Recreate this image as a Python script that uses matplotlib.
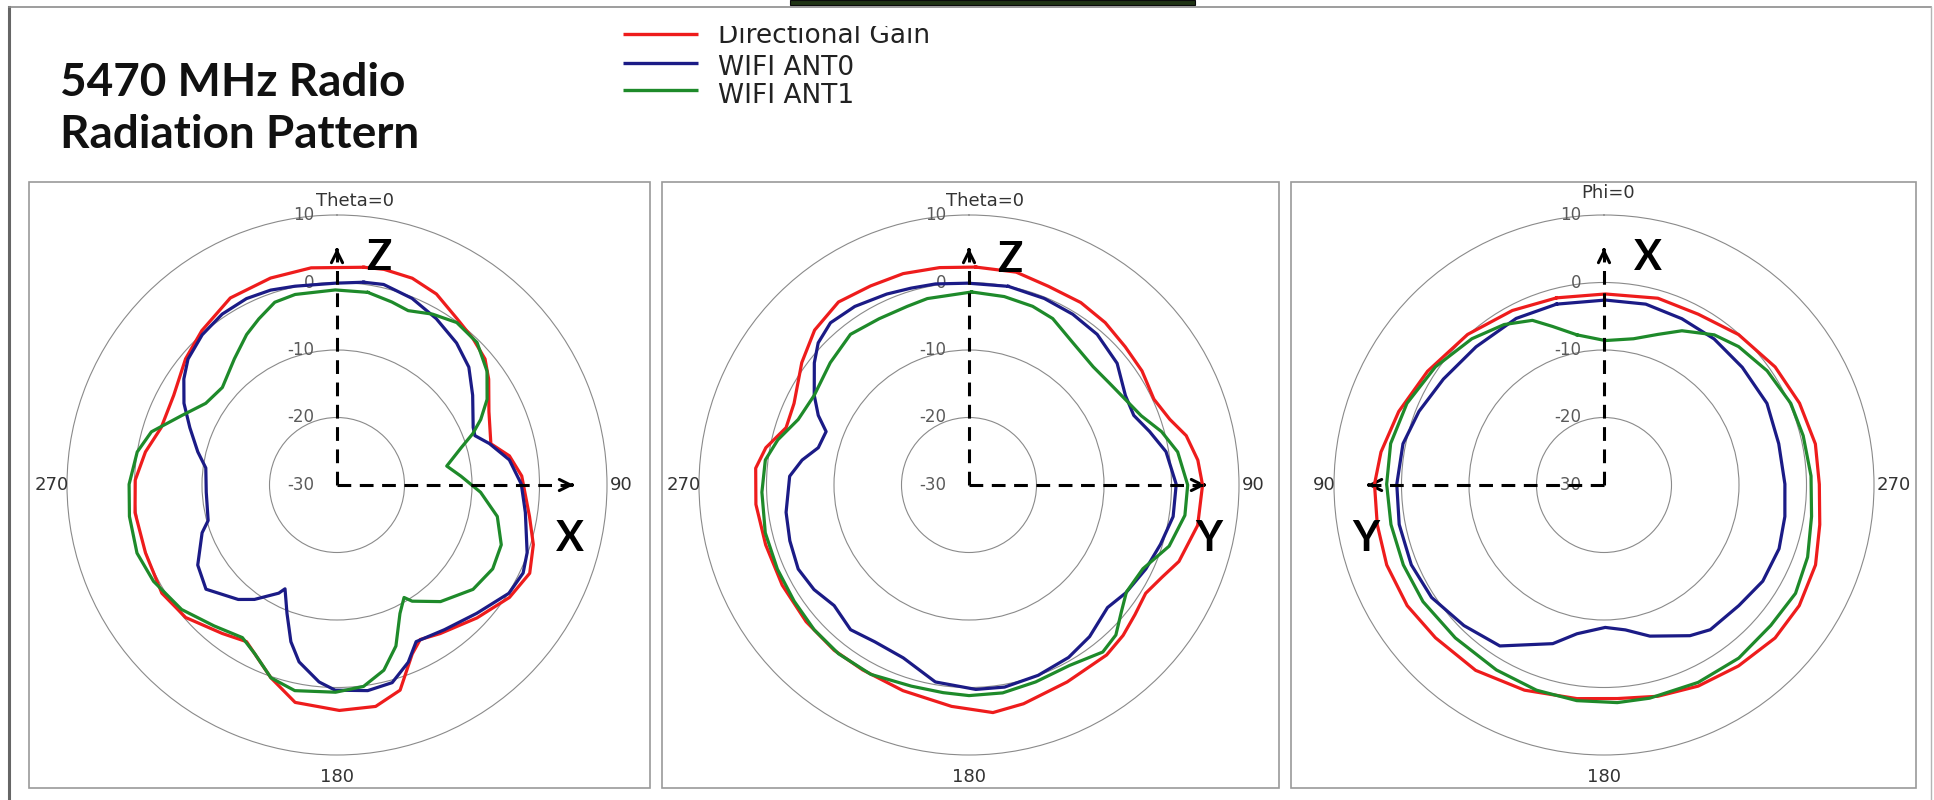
import numpy as np
import matplotlib.pyplot as plt
from matplotlib.lines import Line2D
from matplotlib.patches import Rectangle
from matplotlib.transforms import Bbox, TransformedBbox

W, H = 1934, 800

RED = '#ee1c1c'
BLUE = '#1b1b86'
GREEN = '#1e8a2a'
GRID = '#8a8a8a'

series_names = ['Directional Gain', 'WIFI ANT0', 'WIFI ANT1']
series_colors = [RED, BLUE, GREEN]

# XZ plane, theta sweep (angle in deg, gain in dBi)
xz_gain_ang = [7.0, 12.3, 20.0, 27.5, 35.7, 42.9, 49.6, 55.1, 64.2, 75.0,
               80.4, 87.2, 99.3, 106.9, 114.6, 123.1, 133.5, 145.2, 151.7, 156.0,
               162.9, 170.1, 179.4, 190.9, 198.9, 210.0, 217.7, 228.8, 238.3, 250.5,
               262.2, 271.4, 279.8, 288.1, 298.8, 309.8, 318.8, 330.3, 342.2, 353.2]
xz_gain_db = [2.5, 2.7, 2.6, 1.9, 0.4, -0.4, -1.2, -2.6, -5.0, -6.4,
              -4.1, -2.6, -1.1, 0.4, 1.4, 0.5, -1.4, -3.2, -4.0, -2.6,
              1.8, 3.3, 3.4, 2.8, 0.2, -3.2, -2.2, -0.2, 0.5, 0.1,
              0.2, -0.1, -1.2, -2.6, -2.4, -0.8, 0.4, 1.9, 2.2, 2.4]

xz_ant0_ang = [7.5, 13.1, 21.9, 30.8, 40.1, 48.2, 56.5, 67.1, 70.3, 74.8,
               81.7, 89.7, 98.3, 109.6, 115.3, 122.2, 132.6, 143.4, 153.2, 158.1,
               164.4, 171.5, 180.5, 185.2, 192.1, 196.4, 201.3, 206.6, 208.3, 215.8,
               220.8, 231.5, 240.1, 250.5, 254.6, 266.8, 277.4, 283.4, 291.3, 298.1,
               304.7, 310.2, 318.1, 326.1, 334.1, 341.2, 348.1, 359.5]
xz_ant0_db = [0.3, 0.5, -0.2, -1.3, -2.5, -3.8, -5.9, -8.1, -8.3, -6.6,
              -4.2, -2.7, -1.8, -0.1, 0.5, 0.1, -1.9, -3.3, -4.0, -1.7,
              0.4, 0.8, 0.4, -0.7, -3.2, -5.8, -9.6, -12.8, -11.8, -9.1,
              -7.6, -5.2, -6.2, -8.8, -10.2, -10.6, -10.4, -8.8, -6.6, -4.3,
              -2.4, -1.1, -0.1, 0.5, 0.7, 0.5, 0.1, -0.1]

xz_ant1_ang = [9.1, 16.7, 22.2, 29.2, 36.4, 44.5, 52.8, 60.3, 65.5, 69.3,
               73.3, 80.2, 85.9, 92.9, 101.1, 110.0, 118.3, 127.5, 138.4, 147.1,
               149.2, 153.9, 159.9, 165.8, 172.5, 180.4, 191.6, 198.9, 206.0, 211.8,
               221.1, 231.3, 242.3, 251.2, 261.4, 270.2, 279.4, 286.0, 294.1, 301.9,
               310.4, 320.9, 329.0, 334.8, 341.2, 347.6, 359.5]
xz_ant1_db = [-1.1, -1.7, -2.1, -1.0, -0.1, -0.4, -2.1, -4.4, -6.6, -8.5,
              -10.8, -13.5, -11.6, -8.7, -5.8, -4.1, -3.8, -4.6, -6.9, -9.5,
              -10.6, -8.8, -4.6, -1.7, 0.1, 0.7, 1.1, 0.2, -2.2, -3.4,
              -2.3, -0.5, 0.7, 1.3, 1.1, 0.8, 0.0, -1.4, -4.8, -7.1,
              -7.7, -5.9, -4.0, -2.8, -1.4, -1.1, -1.1]

# YZ plane, theta sweep
yz_gain_ang = [1.8, 12.5, 21.8, 31.5, 40.0, 48.5, 56.6, 65.1, 71.9, 77.2,
               83.8, 90.0, 100.0, 110.0, 115.5, 121.5, 128.0, 134.3, 141.0, 153.5,
               166.0, 174.0, 184.5, 197.8, 209.9, 219.2, 230.0, 241.8, 253.6, 264.8,
               274.5, 280.4, 287.4, 295.0, 306.2, 315.1, 324.5, 333.7, 342.7, 352.3]
yz_gain_db = [2.3, 2.3, 1.7, 1.7, 1.4, 0.9, 0.7, 0.2, 1.3, 3.0,
              4.1, 4.6, 4.4, 3.1, 1.7, 0.7, 1.2, 1.9, 2.4, 2.6,
              3.4, 3.9, 2.9, 2.0, 1.6, 1.6, 1.5, 1.4, 1.4, 1.7,
              1.7, 0.6, -1.6, -1.4, 0.7, 2.4, 3.3, 2.9, 2.8, 2.5]

yz_ant0_ang = [11.2, 22.0, 31.3, 40.4, 50.6, 60.2, 67.1, 73.5, 80.4, 89.8,
               98.8, 107.2, 115.4, 124.5, 131.5, 141.5, 150.0, 160.0, 170.0, 178.1,
               189.7, 200.8, 211.0, 219.3, 228.2, 236.0, 243.8, 252.7, 261.5, 272.8,
               278.5, 283.9, 290.5, 294.8, 300.1, 308.3, 313.3, 319.5, 327.4, 336.7,
               343.6, 350.5, 359.7]
yz_ant0_db = [0.0, -0.2, -0.4, -0.7, -1.6, -3.3, -3.5, -2.1, -0.4, 0.7,
              0.6, -0.3, -1.0, -1.8, -2.6, -1.3, -0.5, 0.0, 0.4, 0.3,
              -0.4, -2.6, -2.9, -2.3, -3.2, -2.3, -1.8, -2.2, -2.6, -3.4,
              -5.0, -7.0, -7.4, -5.4, -3.5, -0.8, 0.7, 1.6, 1.4, 0.8,
              0.4, 0.2, -0.1]

yz_ant1_ang = [0.8, 10.6, 19.6, 26.7, 36.1, 46.4, 54.0, 61.3, 68.1, 74.5,
               81.0, 90.0, 98.0, 107.0, 115.7, 124.2, 129.9, 135.6, 141.3, 150.9,
               161.3, 170.8, 180.0, 187.1, 196.0, 207.4, 217.7, 226.9, 236.4, 246.3,
               256.8, 268.0, 277.0, 283.3, 291.0, 300.1, 311.4, 321.8, 331.6, 340.9,
               347.4]
yz_ant1_db = [-1.4, -1.6, -1.9, -2.4, -3.9, -4.6, -4.3, -3.6, -2.5, -0.4,
              1.3, 2.4, 2.3, 1.0, -1.4, -1.8, -0.6, 1.1, 1.7, 0.6,
              0.8, 1.2, 1.2, 1.0, 1.0, 1.6, 1.6, 1.4, 1.1, 1.0,
              1.0, 0.7, 0.4, -0.9, -2.9, -3.5, -2.6, -1.6, -2.0, -2.0,
              -1.7]

# XY plane, phi sweep (counter-clockwise)
xy_gain_ang = [14.2, 27.7, 42.2, 57.2, 70.3, 81.6, 89.8, 99.9, 110.2, 121.5,
               132.2, 145.3, 158.8, 172.8, 183.6, 194.3, 205.1, 216.6, 228.2, 238.3,
               249.3, 259.6, 270.2, 281.0, 292.7, 304.6, 318.2, 331.1, 343.9, 359.6]
xy_gain_db = [-1.4, -0.8, 0.1, 1.1, 2.3, 3.4, 4.0, 4.1, 4.3, 4.2,
              3.7, 3.4, 2.6, 1.9, 1.7, 2.3, 2.9, 3.4, 4.0, 4.0,
              3.5, 2.5, 1.9, 1.9, 1.4, 0.8, -0.1, -1.1, -1.2, -1.7]

xy_ant0_ang = [14.7, 27.8, 42.8, 56.6, 68.3, 78.4, 89.8, 100.9, 112.5, 123.1,
               135.1, 147.1, 162.1, 169.7, 180.5, 188.4, 196.9, 209.7, 216.3, 228.2,
               238.8, 250.0, 260.1, 270.3, 283.3, 296.6, 310.4, 323.0, 334.9, 347.0,
               359.6]
xy_ant0_db = [-2.3, -2.1, -2.1, -1.5, -0.5, 0.4, 0.7, 0.9, 0.9, 0.5,
              -0.6, -1.6, -5.3, -7.6, -8.9, -8.3, -6.6, -4.3, -3.4, -3.2,
              -2.5, -2.4, -2.8, -3.2, -3.4, -3.0, -3.1, -2.9, -2.8, -2.5,
              -2.6]

xy_ant1_ang = [10.2, 18.0, 23.5, 31.9, 42.1, 55.0, 67.5, 79.0, 89.8, 100.5,
               111.7, 122.8, 135.8, 149.8, 161.8, 172.8, 183.5, 192.1, 205.5, 217.9,
               229.9, 240.5, 250.5, 261.4, 272.5, 283.9, 293.6, 305.0, 315.8, 323.7,
               333.2, 340.3, 348.6, 359.5]
xy_ant1_db = [-7.4, -5.3, -3.4, -2.0, -0.8, 0.5, 1.6, 2.2, 2.2, 2.1,
              2.0, 1.9, 1.6, 1.7, 2.0, 2.2, 2.3, 2.3, 2.4, 2.5,
              2.3, 2.6, 2.0, 1.1, 0.7, 0.4, 0.2, -0.5, -1.4, -2.4,
              -4.4, -6.3, -7.9, -8.6]

r_ticks = [10, 0, -10, -20, -30]


def fx(x):
    return x / W


def fy(y):
    return 1 - y / H


fig = plt.figure(figsize=(W / 100, H / 100), dpi=100)

# outer frame and the tab strip on the top edge
fig.add_artist(Line2D([fx(9), fx(9)], [fy(7), 0], color='#666666', lw=2.2))
fig.add_artist(Line2D([fx(9), fx(1931)], [fy(7), fy(7)], color='#8c8c8c', lw=1.2))
fig.add_artist(Line2D([fx(1931), fx(1931)], [fy(7), 0], color='#b4b4b4', lw=1.0))
fig.add_artist(Rectangle((fx(790), fy(5)), fx(1195) - fx(790), 5 / H,
                         facecolor='#1f3314', edgecolor='#0a0a0a', lw=0.8))

# title
fig.text(fx(60), fy(96), '5470 MHz Radio', family='Lato', fontweight='bold',
         fontsize=33, va='baseline', color='#111111')
fig.text(fx(60), fy(148), 'Radiation Pattern', family='Lato', fontweight='bold',
         fontsize=33, va='baseline', color='#111111')

# legend (the top row is cut by the frame above it)
top_clip = TransformedBbox(Bbox([[0, 0], [1, fy(26)]]), fig.transFigure)
for name, col, ly, by in zip(series_names, series_colors, [34, 63, 90], [43, 75, 103]):
    fig.add_artist(Line2D([fx(623), fx(698)], [fy(ly), fy(ly)], color=col, lw=2.4,
                          solid_capstyle='butt'))
    t = fig.text(fx(718), fy(by), name, fontsize=19, va='baseline', color='#222222')
    t.set_clip_box(top_clip)
    t.set_clip_on(True)

# panel frames
for x0, x1 in [(29, 650), (662, 1279), (1291, 1916)]:
    fig.add_artist(Rectangle((fx(x0), fy(788)), fx(x1) - fx(x0), (788 - 182) / H,
                             fill=False, edgecolor='#9a9a9a', lw=1.2))

R = 270
CY = 485


def draw_panel(cx, cuts, clockwise, top_text, top_off, up_letter, up_off,
               side_letter, side_off):
    ax = fig.add_axes([fx(cx - R), fy(CY + R), 2 * R / W, 2 * R / H], projection='polar')
    ax.patch.set_alpha(0)
    ax.set_theta_zero_location('N')
    ax.set_theta_direction(-1 if clockwise else 1)
    ax.set_ylim(-30, 10)
    ax.set_yticks([-20, -10, 0])
    ax.set_yticklabels([])
    ax.set_xticks([])
    ax.yaxis.grid(True, color=GRID, lw=0.8)
    ax.spines['polar'].set_color(GRID)
    ax.spines['polar'].set_linewidth(0.8)

    for v in r_ticks:
        ax.annotate(str(v), xy=(0, v), xytext=(-23, 0), textcoords='offset pixels',
                    ha='right', va='center', fontsize=12, color='#5a5a5a',
                    annotation_clip=False)

    # dashed coordinate axes
    for th in (0.0, np.pi / 2):
        ax.plot([th, th], [-30, 4.6], color='k', lw=2.2, ls=(0, (4.5, 2.8)), zorder=4)
        ax.annotate('', xy=(th, 5.5), xytext=(th, 4.4),
                    arrowprops=dict(arrowstyle='->', color='k', lw=2.2, mutation_scale=20),
                    annotation_clip=False)

    for (ang, db), col in zip(cuts, series_colors):
        th = np.deg2rad(np.append(ang, ang[0] + 360))
        r = np.append(db, db[0])
        ax.plot(th, r, color=col, lw=2.3, zorder=3)

    right_lbl, left_lbl = ('90', '270') if clockwise else ('270', '90')
    lab = dict(xycoords='axes fraction', textcoords='offset pixels', fontsize=13,
               color='#333333', va='center', annotation_clip=False)
    ax.annotate(right_lbl, xy=(1, 0.5), xytext=(3, 0), ha='left', **lab)
    ax.annotate(left_lbl, xy=(0, 0.5), xytext=(2, 0), ha='right', **lab)
    ax.annotate('180', xy=(0.5, 0), xytext=(0, -22), ha='center', **lab)
    ax.annotate(top_text, xy=(0.5, 1), xytext=top_off, ha='center', **lab)

    big = dict(xy=(0.5, 0.5), xycoords='axes fraction', textcoords='offset pixels',
               family='Lato', fontweight='bold', fontsize=30, ha='center', va='center',
               annotation_clip=False)
    ax.annotate(up_letter, xytext=up_off, **big)
    ax.annotate(side_letter, xytext=side_off, **big)
    return ax


draw_panel(337, [(xz_gain_ang, xz_gain_db), (xz_ant0_ang, xz_ant0_db), (xz_ant1_ang, xz_ant1_db)],
           True, 'Theta=0', (18, 14), 'Z', (42, 227), 'X', (233, -54))
draw_panel(969, [(yz_gain_ang, yz_gain_db), (yz_ant0_ang, yz_ant0_db), (yz_ant1_ang, yz_ant1_db)],
           True, 'Theta=0', (16, 14), 'Z', (41, 225), 'Y', (240, -54))
draw_panel(1604, [(xy_gain_ang, xy_gain_db), (xy_ant0_ang, xy_ant0_db), (xy_ant1_ang, xy_ant1_db)],
           False, 'Phi=0', (4, 22), 'X', (44, 227), 'Y', (-238, -54))

fig.savefig('out.png', dpi=100)
